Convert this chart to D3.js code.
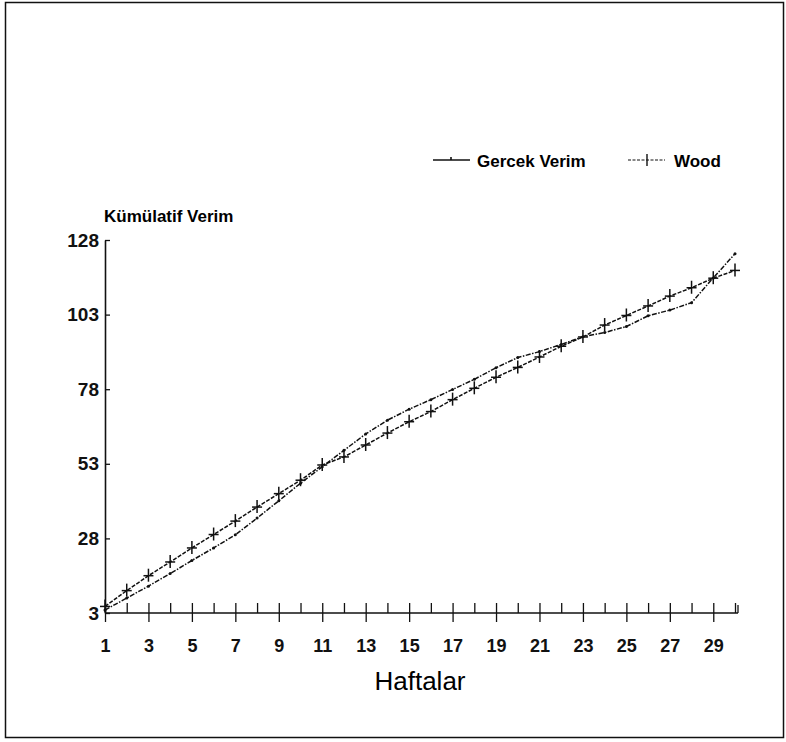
<!DOCTYPE html>
<html>
<head>
<meta charset="utf-8">
<script src="https://cdn.jsdelivr.net/npm/d3@7"></script>
<style>
  body { margin: 0; background: #fff; }
  text { font-family: "Liberation Sans", Arial, sans-serif; }
</style>
</head>
<body>
<div id="chart"></div>
<script>
// weeks 1..30
var weeks = d3.range(1, 31)
var gercek = [4, 8, 12, 16.2, 20.6, 24.8, 29.2, 34.8, 40.6, 46.5, 52, 57.5, 63, 67.6, 71.3, 74.5, 77.9, 81.3, 85.2, 88.6, 90.6, 93, 95.6, 97, 99, 102.6, 104.5, 107, 115.3, 123.4]
var wood = [5.2, 10.5, 15.5, 20.1, 24.8, 29.3, 33.8, 38.5, 43, 47.5, 52.6, 55.3, 59.3, 63.3, 67.1, 70.5, 74.5, 78.3, 82, 85.3, 88.8, 92.4, 95.5, 99.5, 102.7, 105.9, 109.2, 112, 115.2, 117.8]
var yTicks = [3, 28, 53, 78, 103, 128]
var xLabels = [1, 3, 5, 7, 9, 11, 13, 15, 17, 19, 21, 23, 25, 27, 29]
var seriesNames = ["Gercek Verim", "Wood"]

var W = 786, H = 742

var svg = d3.select("#chart").append("svg")
  .attr("width", W)
  .attr("height", H)

// outer frame
svg.append("rect")
  .attr("x", 5.5).attr("y", 2.5)
  .attr("width", 778).attr("height", 735)
  .attr("fill", "none")
  .attr("stroke", "#111")
  .attr("stroke-width", 1.5)

var x = d3.scaleLinear().domain([1, 30]).range([105, 735])
var y = d3.scaleLinear().domain([3, 128]).range([613, 240])

// y axis
var yAxis = svg.append("g")
  .attr("transform", "translate(105,0)")
  .call(d3.axisLeft(y).tickValues(yTicks).tickSizeInner(-5).tickSizeOuter(0).tickPadding(6))
yAxis.select(".domain").attr("stroke", "#111").attr("stroke-width", 1.6)
yAxis.selectAll("line").attr("stroke", "#111").attr("stroke-width", 1.3)
yAxis.selectAll("text")
  .attr("font-size", 19).attr("font-weight", "bold").attr("fill", "#111")
  .style("font-family", "'Liberation Sans', Arial, sans-serif")

// x axis
var xAxis = svg.append("g")
  .attr("transform", "translate(0,613)")
  .call(d3.axisBottom(x).tickValues(weeks).tickSizeOuter(0).tickPadding(20)
    .tickFormat(function(d) { return xLabels.includes(d) ? d : "" }))
xAxis.select(".domain").attr("d", "M105,0H738").attr("stroke", "#111").attr("stroke-width", 1.6)
xAxis.selectAll(".tick line")
  .attr("stroke", "#111").attr("stroke-width", 1.3)
  .attr("y1", -10)
  .attr("y2", function(d) { return d % 2 == 1 ? 9 : 0 })
xAxis.selectAll("text")
  .attr("font-size", 18).attr("font-weight", "bold").attr("fill", "#111")
  .style("font-family", "'Liberation Sans', Arial, sans-serif")
// small end tick
xAxis.append("line")
  .attr("x1", 738).attr("x2", 738).attr("y1", -8).attr("y2", 0)
  .attr("stroke", "#111").attr("stroke-width", 1.3)

// axis titles
svg.append("text")
  .attr("x", 104).attr("y", 222)
  .attr("font-size", 17).attr("font-weight", "bold")
  .text("Kümülatif Verim")

svg.append("text")
  .attr("x", 420).attr("y", 690)
  .attr("text-anchor", "middle")
  .attr("font-size", 26)
  .text("Haftalar")

var line = d3.line()
  .x(function(d, i) { return x(weeks[i]) })
  .y(function(d) { return y(d) })

// Gercek Verim line
svg.append("path")
  .datum(gercek)
  .attr("d", line)
  .attr("fill", "none")
  .attr("stroke", "#111")
  .attr("stroke-width", 1.5)
  .attr("stroke-dasharray", "5,1.5,1.5,1.5")

svg.append("g").selectAll("circle")
  .data(gercek)
  .enter()
  .append("circle")
    .attr("cx", function(d, i) { return x(weeks[i]) })
    .attr("cy", function(d) { return y(d) })
    .attr("r", 1.5)
    .attr("fill", "#111")

// Wood line
svg.append("path")
  .datum(wood)
  .attr("d", line)
  .attr("fill", "none")
  .attr("stroke", "#111")
  .attr("stroke-width", 1.5)
  .attr("stroke-dasharray", "4,1.5")

var plus = svg.append("g").selectAll("g")
  .data(wood)
  .enter()
  .append("g")
    .attr("transform", function(d, i) { return "translate(" + x(weeks[i]) + "," + y(d) + ")" })
plus.append("line").attr("x1", -5).attr("x2", 5).attr("y1", 0).attr("y2", 0)
  .attr("stroke", "#111").attr("stroke-width", 1.5)
plus.append("line").attr("x1", 0).attr("x2", 0).attr("y1", -7).attr("y2", 6)
  .attr("stroke", "#111").attr("stroke-width", 1.5)

// legend
var legend = svg.append("g")
legend.append("line").attr("x1", 433).attr("x2", 470).attr("y1", 160).attr("y2", 160)
  .attr("stroke", "#111").attr("stroke-width", 1.4)
legend.append("line").attr("x1", 451).attr("x2", 451).attr("y1", 157).attr("y2", 160)
  .attr("stroke", "#111").attr("stroke-width", 1.6)
legend.append("text").attr("x", 477).attr("y", 167)
  .attr("font-size", 17).attr("font-weight", "bold")
  .text(seriesNames[0])

legend.append("line").attr("x1", 628).attr("x2", 665).attr("y1", 160).attr("y2", 160)
  .attr("stroke", "#111").attr("stroke-width", 1.2).attr("stroke-dasharray", "3,1.5")
legend.append("line").attr("x1", 647).attr("x2", 647).attr("y1", 154).attr("y2", 166)
  .attr("stroke", "#111").attr("stroke-width", 1.4)
legend.append("text").attr("x", 674).attr("y", 167)
  .attr("font-size", 17).attr("font-weight", "bold")
  .text(seriesNames[1])
</script>
</body>
</html>
